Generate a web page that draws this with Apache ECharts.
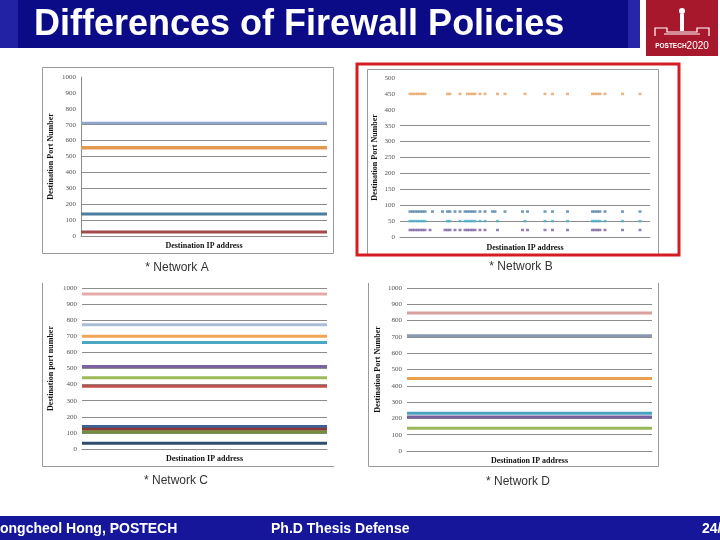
<!DOCTYPE html>
<html><head><meta charset="utf-8">
<script src="https://cdn.jsdelivr.net/npm/echarts@6/dist/echarts.min.js"></script>
<style>html,body{margin:0;padding:0;background:#fff}#c{width:720px;height:540px}</style>
</head><body><div id="c"></div>
<script>
// ---------- data ----------
const ipEnds = ['first IP', 'last IP'];
const yTicks1000 = [0,100,200,300,400,500,600,700,800,900,1000];
const yTicks500 = [0,50,100,150,200,250,300,350,400,450,500];

// Network A: port levels (lines)
const netA_ports = [710, 555, 139, 25];
// Network C
const netC_ports = [962, 772, 700, 662, 512, 443, 389, 139, 122, 106, 35];
// Network D
const netD_ports = [846, 707, 445, 232, 209, 139];

// Network B: scattered rules; IP index (0..100) for each port row
const netB_ports = [450, 80, 50, 22];
const netB_ip_450 = [4,5,6,7,8,9,10,19,20,24,27,28,29,30,32,34,39,42,50,58,61,67,77,78,79,80,82,89,96];
const netB_ip_80  = [4,5,6,7,8,9,10,13,17,19,20,22,24,26,27,28,29,30,32,34,37,38,42,49,51,58,61,67,77,78,79,80,82,89,96];
const netB_ip_50  = [4,5,6,7,8,9,10,19,20,24,26,27,28,29,30,32,34,39,50,58,61,67,77,78,79,80,82,89,96];
const netB_ip_22  = [4,5,6,7,8,9,10,12,18,19,20,22,24,26,27,28,29,30,32,34,39,49,51,58,61,67,77,78,79,80,82,89,96];
const netB_ips = [netB_ip_450, netB_ip_80, netB_ip_50, netB_ip_22];

const captions = ['* Network A', '* Network B', '* Network C', '* Network D'];
const yTitles = ['Destination Port Number', 'Destination Port Number', 'Destination port number', 'Destination Port Number'];
const xTitle = 'Destination IP address';

// ---------- styles ----------
const colA = ['#8FA7CE', '#E39A50', '#4C7E9E', '#A34A4A'];
const colB = ['#E5A262', '#4F7FA7', '#4BACC6', '#7B5FA0'];
const colC = ['#E3AAAA', '#A9BED6', '#F2A553', '#4BA8C2', '#7D62A0', '#9DBB5A', '#C0504D', '#3A6394', '#8C3836', '#738E3C', '#2F4E6E'];
const colD = ['#D9A0A0', '#8A98B2', '#E9A050', '#4BA3BE', '#7860A0', '#9AB858'];
const widthA = [2.5, 3.5, 3, 3];

const chart = echarts.init(document.getElementById('c'), null, {renderer: 'canvas'});
const labelFont = {fontSize: 7, color: '#555', fontFamily: 'Liberation Serif'};
const nameFont = {fontSize: 8, fontWeight: 'bold', color: '#111', fontFamily: 'Liberation Serif'};
const G = '#8c8c8c';
const T = 'rgba(0,0,0,0)';

const grids = [
  {left: 81, top: 77, width: 246, height: 159},
  {left: 400, top: 78, width: 250, height: 159},
  {left: 82, top: 288, width: 245, height: 161},
  {left: 407, top: 288, width: 245, height: 163}
];

function yAx(i, max, interval, splitColors, axisLine, gap) {
  return {gridIndex: i, type: 'value', min: 0, max: max, interval: interval,
    name: yTitles[i], nameLocation: 'middle', nameRotate: 90, nameGap: gap, nameTextStyle: nameFont,
    axisLabel: Object.assign({margin: 5, formatter: v => String(v)}, labelFont),
    axisTick: {show: false},
    axisLine: {show: axisLine, lineStyle: {color: G, width: 1}},
    splitLine: {show: true, lineStyle: {color: splitColors, width: 1}}};
}
function xCat(i) {
  return {gridIndex: i, type: 'category', data: ipEnds, boundaryGap: false,
    name: xTitle, nameLocation: 'middle', nameGap: 6, nameTextStyle: nameFont,
    axisLabel: {show: false}, axisTick: {show: false},
    axisLine: {show: true, lineStyle: {color: G}}};
}

const series = [];
netA_ports.forEach((p, k) => series.push({type: 'line', xAxisIndex: 0, yAxisIndex: 0, data: ipEnds.map(() => p),
  symbol: 'none', lineStyle: {color: colA[k], width: widthA[k]}, silent: true, z: 3}));
netC_ports.forEach((p, k) => series.push({type: 'line', xAxisIndex: 2, yAxisIndex: 2, data: ipEnds.map(() => p),
  symbol: 'none', lineStyle: {color: colC[k], width: 3}, silent: true, z: 3}));
netD_ports.forEach((p, k) => series.push({type: 'line', xAxisIndex: 3, yAxisIndex: 3, data: ipEnds.map(() => p),
  symbol: 'none', lineStyle: {color: colD[k], width: 3}, silent: true, z: 3}));
netB_ports.forEach((p, k) => series.push({type: 'scatter', xAxisIndex: 1, yAxisIndex: 1,
  data: netB_ips[k].map(ip => [ip, p]), symbol: 'rect', symbolSize: [3, 2.5],
  itemStyle: {color: colB[k]}, silent: true, z: 3}));

const graphic = [
  // title bar
  {type: 'rect', shape: {x: 0, y: 0, width: 640, height: 48}, style: {fill: '#0B0B88'}, z: 1},
  {type: 'rect', shape: {x: 0, y: 0, width: 18, height: 48}, style: {fill: '#2222A4'}, z: 2},
  {type: 'rect', shape: {x: 628, y: 0, width: 12, height: 48}, style: {fill: '#2626A8'}, z: 2},
  {type: 'text', x: 34, y: 25, style: {text: 'Differences of Firewall Policies', fill: '#fff',
    font: 'bold 36px "Liberation Sans"', textVerticalAlign: 'middle'}, z: 3},
  // logo
  {type: 'rect', shape: {x: 646, y: 0, width: 72, height: 56}, style: {fill: '#A8182C'}, z: 1},
  {type: 'polyline', shape: {points: [[655, 36], [655, 28], [667, 28], [667, 32], [697, 32], [697, 28], [709, 28], [709, 36]]},
    style: {stroke: '#fff', lineWidth: 1.2, fill: null}, z: 3},
  {type: 'line', shape: {x1: 664, y1: 34, x2: 700, y2: 34}, style: {stroke: '#fff', lineWidth: 1}, z: 3},
  {type: 'rect', shape: {x: 680, y: 14, width: 4, height: 17}, style: {fill: '#fff'}, z: 3},
  {type: 'circle', shape: {cx: 682, cy: 11, r: 3}, style: {fill: '#fff'}, z: 3},
  {type: 'text', x: 682, y: 46, style: {text: '{a|POSTECH}{b|2020}', fill: '#fff', align: 'center', textVerticalAlign: 'middle',
    rich: {a: {fontSize: 6.5, fontWeight: 'bold', fill: '#fff', fontFamily: 'Liberation Sans'},
           b: {fontSize: 10, fill: '#fff', fontFamily: 'Liberation Sans'}}}, z: 3},
  // chart frames
  {type: 'rect', shape: {x: 42.5, y: 67.5, width: 291, height: 186}, style: {fill: null, stroke: '#9a9a9a', lineWidth: 1}, z: 0},
  {type: 'rect', shape: {x: 367.5, y: 69.5, width: 291, height: 185}, style: {fill: null, stroke: '#9a9a9a', lineWidth: 1}, z: 0},
  {type: 'rect', shape: {x: 357, y: 64, width: 322, height: 191}, style: {fill: null, stroke: '#D41E24', lineWidth: 3}, z: 5},
  {type: 'polyline', shape: {points: [[42.5, 283], [42.5, 466.5], [334, 466.5]]}, style: {fill: null, stroke: '#9a9a9a', lineWidth: 1}, z: 0},
  {type: 'polyline', shape: {points: [[368.5, 283], [368.5, 466.5], [658.5, 466.5], [658.5, 283]]}, style: {fill: null, stroke: '#9a9a9a', lineWidth: 1}, z: 0},
  // captions
  {type: 'text', x: 177, y: 268, style: {text: captions[0], fill: '#333', font: '12px "Liberation Sans"', align: 'center', textVerticalAlign: 'middle'}},
  {type: 'text', x: 521, y: 267, style: {text: captions[1], fill: '#333', font: '12px "Liberation Sans"', align: 'center', textVerticalAlign: 'middle'}},
  {type: 'text', x: 176, y: 481, style: {text: captions[2], fill: '#333', font: '12px "Liberation Sans"', align: 'center', textVerticalAlign: 'middle'}},
  {type: 'text', x: 518, y: 482, style: {text: captions[3], fill: '#333', font: '12px "Liberation Sans"', align: 'center', textVerticalAlign: 'middle'}},
  // footer
  {type: 'rect', shape: {x: 0, y: 516, width: 720, height: 24}, style: {fill: '#16169A'}, z: 1},
  {type: 'text', x: 0, y: 529, style: {text: 'ongcheol Hong, POSTECH', fill: '#fff', font: 'bold 14px "Liberation Sans"', textVerticalAlign: 'middle'}, z: 3},
  {type: 'text', x: 271, y: 529, style: {text: 'Ph.D Thesis Defense', fill: '#fff', font: 'bold 14px "Liberation Sans"', textVerticalAlign: 'middle'}, z: 3},
  {type: 'text', x: 702, y: 529, style: {text: '24/', fill: '#fff', font: 'bold 14px "Liberation Sans"', textVerticalAlign: 'middle'}, z: 3}
];

const splitA = [T, G, G, G, G, G, G, G, T, T, T];
const splitB = [T, G, G, G, G, G, G, G, T, T, T];
const splitCD = [T, G, G, G, G, G, G, G, G, G, G];

chart.setOption({
  animation: false,
  backgroundColor: '#fff',
  grid: grids,
  xAxis: [
    xCat(0),
    {gridIndex: 1, type: 'value', min: 0, max: 100, name: xTitle, nameLocation: 'middle', nameGap: 7, nameTextStyle: nameFont,
      axisLabel: {show: false}, axisTick: {show: false}, splitLine: {show: false}, axisLine: {show: true, lineStyle: {color: G}}},
    xCat(2), xCat(3)
  ],
  yAxis: [
    yAx(0, 1000, 100, splitA, true, 26),
    yAx(1, 500, 50, splitB, false, 21),
    yAx(2, 1000, 100, splitCD, false, 27),
    yAx(3, 1000, 100, splitCD, false, 25)
  ],
  series: series,
  graphic: graphic
});
</script>
</body></html>
